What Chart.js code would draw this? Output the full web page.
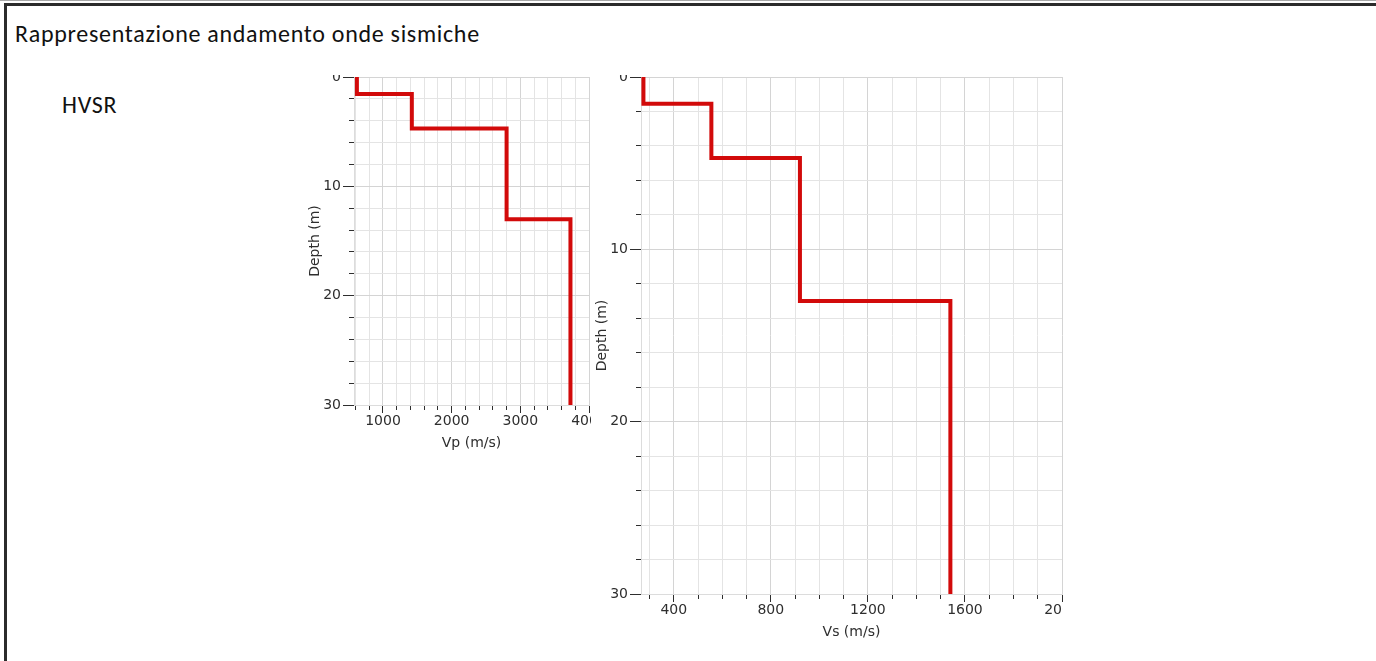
<!DOCTYPE html>
<html>
<head>
<meta charset="utf-8">
<title>Rappresentazione andamento onde sismiche</title>
<script src="https://cdn.jsdelivr.net/npm/chart.js@4.4.0/dist/chart.umd.min.js"></script>
<style>
  html, body { margin: 0; padding: 0; background: #fff; }
  body { width: 1376px; height: 661px; position: relative; overflow: hidden; font-family: Carlito, Lato, "Open Sans", sans-serif; }
  .topline { position: absolute; left: 0; top: 0; width: 1376px; height: 1px; background: #a8a8a8; }
  .frame { position: absolute; left: 4px; top: 3px; right: 0; bottom: 0; border-top: 3px solid #2b2b2b; border-left: 3px solid #2b2b2b; }
  h1 { position: absolute; left: 15px; top: 19px; margin: 0; font-size: 24px; letter-spacing: 0.7px; font-weight: normal; color: #111; white-space: nowrap; }
  .method { position: absolute; left: 62px; top: 90px; font-size: 24px; letter-spacing: 0.7px; color: #111; }
  .clip { position: absolute; overflow: hidden; }
  .clip canvas { position: absolute; left: 0; top: -18px; }
</style>
</head>
<body>
<div class="topline"></div>
<div class="frame"></div>
<h1>Rappresentazione andamento onde sismiche</h1>
<div class="method">HVSR</div>

<div class="clip" style="left:300px; top:75px; width:291px; height:385px;">
  <canvas id="vpChart" width="314" height="395"></canvas>
</div>
<div class="clip" style="left:592px; top:75px; width:471px; height:586px;">
  <canvas id="vsChart" width="495" height="584"></canvas>
</div>

<script>
// layer model: top depth of each layer (m), profile ends at maxDepth
const layerTop = [0, 1.55, 4.7, 13];
const maxDepth = 30;
const vpValues = [620, 1420, 2800, 3730];
const vsValues = [275, 555, 920, 1540];

const depthLabels = [0, 10, 20, 30];
const vpLabels = [1000, 2000, 3000, 4000];
const vsLabels = [400, 800, 1200, 1600, 2000];

const tickFont = { family: "DejaVu Sans", size: 14 };
const titleFont = { family: "DejaVu Sans", size: 14 };
const inkColor = "#2e2e2e";

function stepPoints(values) {
  const pts = [];
  values.forEach((v, i) => {
    const bottom = i + 1 < layerTop.length ? layerTop[i + 1] : maxDepth;
    pts.push({ x: v, y: layerTop[i] });
    pts.push({ x: v, y: bottom });
  });
  return pts;
}

// ticks on every multiple of step inside the axis range
function stepTicks(step) {
  return s => {
    const t = [];
    for (let v = Math.ceil(s.min / step) * step; v <= s.max; v += step) t.push({ value: v });
    s.ticks = t;
  };
}

function profileChart(id, values, xMin, xMax, xStep, xLabels, xTitle, padLeft) {
  const isXMajor = ctx => ctx.tick && xLabels.includes(ctx.tick.value);
  const isYMajor = ctx => ctx.tick && depthLabels.includes(ctx.tick.value);

  return new Chart(document.getElementById(id), {
    type: "line",
    data: {
      datasets: [{
        data: stepPoints(values),
        borderColor: "#d20a0a",
        borderWidth: 4,
        pointRadius: 0,
        fill: false,
        tension: 0
      }]
    },
    options: {
      responsive: false,
      animation: false,
      devicePixelRatio: 1,
      layout: { padding: { left: padLeft, top: 20, right: 25, bottom: 0 } },
      plugins: { legend: { display: false }, tooltip: { enabled: false } },
      scales: {
        x: {
          type: "linear",
          position: "bottom",
          min: xMin,
          max: xMax,
          afterBuildTicks: stepTicks(xStep),
          afterFit: s => { s.height = 47; s.paddingLeft = 0; s.paddingRight = 0; },
          ticks: {
            autoSkip: false,
            maxRotation: 0,
            padding: 0,
            color: inkColor,
            font: tickFont,
            callback: v => xLabels.includes(v) ? String(v) : ""
          },
          grid: {
            color: ctx => isXMajor(ctx) ? "#d4d4d4" : "#e4e4e4",
            tickLength: 8,
            tickColor: inkColor,
            tickBorderDash: ctx => isXMajor(ctx) ? [] : [4, 100]
          },
          border: { color: "#dcdcdc" },
          title: { display: true, text: xTitle, color: inkColor, font: titleFont, padding: 0 }
        },
        y: {
          type: "linear",
          reverse: true,
          min: 0,
          max: maxDepth,
          afterBuildTicks: stepTicks(2),
          afterFit: s => { s.width = 47; s.paddingTop = 0; s.paddingBottom = 0; },
          ticks: {
            autoSkip: false,
            padding: 2,
            color: inkColor,
            font: tickFont,
            callback: v => depthLabels.includes(v) ? String(v) : ""
          },
          grid: {
            color: ctx => isYMajor(ctx) ? "#d4d4d4" : "#e4e4e4",
            tickLength: 11,
            tickColor: inkColor,
            tickBorderDash: ctx => isYMajor(ctx) ? [] : [0, 6, 5, 100]
          },
          border: { color: "#dcdcdc" },
          title: { display: true, text: "Depth (m)", color: inkColor, font: titleFont, padding: 0 }
        }
      }
    }
  });
}

profileChart("vpChart", vpValues, 578, 4000, 200, vpLabels, "Vp (m/s)", 7);
profileChart("vsChart", vsValues, 265, 2000, 100, vsLabels, "Vs (m/s)", 2);
</script>
</body>
</html>
